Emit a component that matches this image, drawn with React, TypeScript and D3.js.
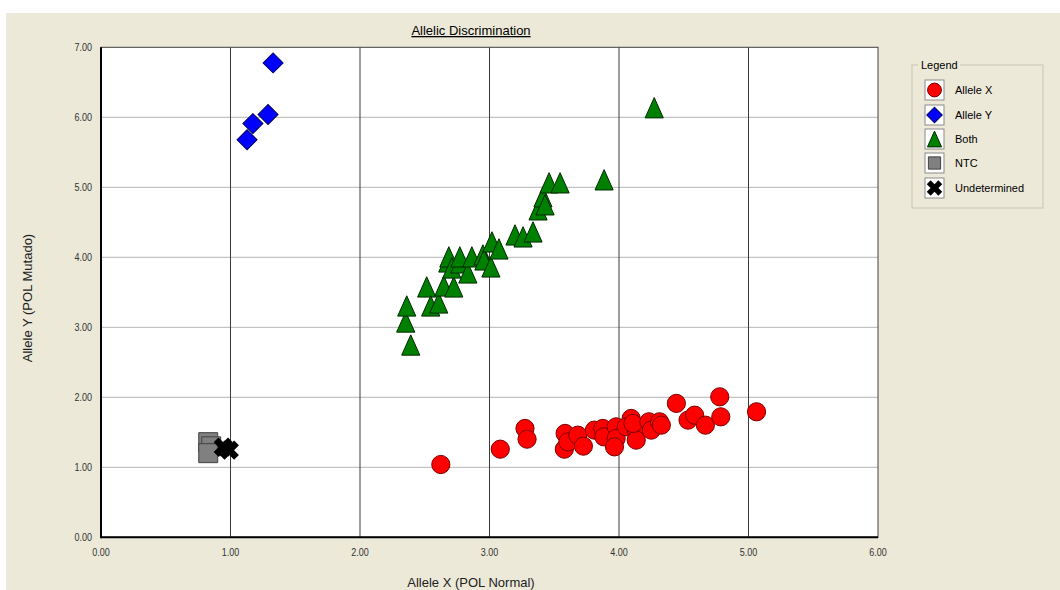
import React from "react";
import * as d3 from "d3";

const xTicks = [0, 1, 2, 3, 4, 5, 6];
const yTicks = [0, 1, 2, 3, 4, 5, 6, 7];

const alleleX: [number, number][] = [
  [2.624, 1.04], [3.083, 1.259], [3.274, 1.555], [3.29, 1.402], [3.578, 1.259],
  [3.584, 1.484], [3.605, 1.363], [3.682, 1.459], [3.725, 1.302], [3.81, 1.531],
  [3.875, 1.555], [3.883, 1.435], [3.978, 1.578], [3.978, 1.412], [3.965, 1.292],
  [4.094, 1.698], [4.056, 1.578], [4.133, 1.531], [4.133, 1.388], [4.108, 1.627],
  [4.231, 1.65], [4.249, 1.531], [4.313, 1.65], [4.327, 1.602], [4.443, 1.913],
  [4.533, 1.674], [4.584, 1.745], [4.667, 1.602], [4.778, 2.007], [4.786, 1.721],
  [5.062, 1.793],
];
const alleleY: [number, number][] = [
  [1.329, 6.777], [1.29, 6.04], [1.173, 5.91], [1.128, 5.68],
];
const both: [number, number][] = [
  [2.392, 2.747], [2.353, 3.076], [2.361, 3.305], [2.515, 3.577], [2.546, 3.305],
  [2.608, 3.348], [2.647, 3.591], [2.724, 3.577], [2.678, 3.934], [2.686, 4.006],
  [2.709, 3.848], [2.771, 3.92], [2.771, 4.006], [2.833, 3.777], [2.864, 4.006],
  [2.949, 4.034], [2.957, 3.963], [3.011, 3.863], [3.019, 4.22], [3.073, 4.12],
  [3.197, 4.32], [3.259, 4.292], [3.336, 4.363], [3.375, 4.678], [3.413, 4.864],
  [3.429, 4.75], [3.46, 5.064], [3.545, 5.064], [3.885, 5.107], [4.272, 6.137],
];
const ntc: [number, number][] = [[0.828, 1.359], [0.851, 1.3], [0.828, 1.202]];
const undetermined: [number, number][] = [[0.944, 1.288], [0.991, 1.245]];

const legendLabels = ["Allele X", "Allele Y", "Both", "NTC", "Undetermined"];

const W = 1060, H = 590;
const x = d3.scaleLinear().domain([0, 6]).range([101, 878]);
const y = d3.scaleLinear().domain([0, 7]).range([537.3, 47.3]);
const fmt = d3.format(".2f");

const triType = {
  draw(ctx: any, size: number) {
    const w = Math.sqrt(size);
    const h = w * 1.12;
    ctx.moveTo(0, -h / 2);
    ctx.lineTo(w / 2, h / 2);
    ctx.lineTo(-w / 2, h / 2);
    ctx.closePath();
  },
};
const circlePath = d3.symbol(d3.symbolCircle, 260)()!;
const diamondPath = d3.symbol(d3.symbolSquare, 200)()!;
const triPath = d3.symbol(triType as any, 330)()!;
const squarePath = d3.symbol(d3.symbolSquare, 360)()!;
const xPath = d3.symbol(d3.symbolCross, 230)()!;

const lCircle = d3.symbol(d3.symbolCircle, 150)()!;
const lDiamond = d3.symbol(d3.symbolSquare, 120)()!;
const lTri = d3.symbol(triType as any, 200)()!;
const lSquare = d3.symbol(d3.symbolSquare, 150)()!;
const lX = d3.symbol(d3.symbolCross, 150)()!;

const font = "'Liberation Sans', Arial, sans-serif";

export default function App() {
  const legendX = 912, legendY = 65;
  const rowY = [90, 115, 139, 163, 188];
  const legendIcons = [
    <path d={lCircle} fill="#ff0000" stroke="#7a0000" />,
    <path d={lDiamond} transform="rotate(45)" fill="#0000ff" stroke="#000060" />,
    <path d={lTri} fill="#008000" stroke="#002800" />,
    <path d={lSquare} fill="#808080" stroke="#404040" />,
    <path d={lX} transform="rotate(45)" fill="#000" />,
  ];
  return (
    <svg width={W} height={H} style={{ position: "absolute", left: 0, top: 0, display: "block" }}>
      <rect x={0} y={0} width={W} height={H} fill="#ffffff" />
      <rect x={6} y={13} width={W - 6} height={H - 13} fill="#ece9d8" />
      <text x={471} y={35} textAnchor="middle" fontFamily={font} fontSize={13} fill="#000"
        textDecoration="underline">Allelic Discrimination</text>
      <rect x={x(0)} y={y(7)} width={x(6) - x(0)} height={y(0) - y(7)} fill="#ffffff" />
      {yTicks.slice(1, -1).map((t) => (
        <line key={"hy" + t} x1={x(0)} x2={x(6)} y1={y(t)} y2={y(t)} stroke="#b4b4b4" strokeWidth={1} />
      ))}
      {xTicks.slice(1, -1).map((t) => (
        <line key={"vx" + t} x1={x(t)} x2={x(t)} y1={y(7)} y2={y(0)} stroke="#3c3c3c" strokeWidth={1} />
      ))}
      <rect x={x(0)} y={y(7)} width={x(6) - x(0)} height={y(0) - y(7)} fill="none" stroke="#404040" strokeWidth={1} />
      <line x1={x(0)} x2={x(0)} y1={y(7)} y2={y(0) + 1} stroke="#000" strokeWidth={2} />
      <line x1={x(0)} x2={x(6)} y1={y(0)} y2={y(0)} stroke="#000" strokeWidth={2} />
      {yTicks.map((t) => (
        <text key={"yl" + t} x={92} y={y(t) + 3.5} textAnchor="end" fontFamily={font} fontSize={10}
          fill="#333" transform={`translate(${92 * 0.1},0) scale(0.9,1)`}>{fmt(t)}</text>
      ))}
      {xTicks.map((t) => (
        <text key={"xl" + t} x={x(t) / 0.9} y={556} textAnchor="middle" fontFamily={font} fontSize={10}
          fill="#333" transform="scale(0.9,1)">{fmt(t)}</text>
      ))}
      <text transform={`translate(32,${298}) rotate(-90)`} textAnchor="middle" fontFamily={font} fontSize={13} fill="#222">Allele Y (POL Mutado)</text>
      <text x={471} y={587} textAnchor="middle" fontFamily={font} fontSize={13} fill="#222">Allele X (POL Normal)</text>
      <g>
        {alleleX.map((d, i) => (
          <path key={"ax" + i} d={circlePath} transform={`translate(${x(d[0])},${y(d[1])})`} fill="#ff0000" stroke="#7a0000" strokeWidth={1} />
        ))}
        {alleleY.map((d, i) => (
          <path key={"ay" + i} d={diamondPath} transform={`translate(${x(d[0])},${y(d[1])}) rotate(45)`} fill="#0000ff" stroke="#000060" strokeWidth={1} />
        ))}
        {both.map((d, i) => (
          <path key={"b" + i} d={triPath} transform={`translate(${x(d[0])},${y(d[1])})`} fill="#008000" stroke="#002800" strokeWidth={1} />
        ))}
        {ntc.map((d, i) => (
          <path key={"n" + i} d={squarePath} transform={`translate(${x(d[0])},${y(d[1])})`} fill="#808080" stroke="#404040" strokeWidth={1} />
        ))}
        {undetermined.map((d, i) => (
          <path key={"u" + i} d={xPath} transform={`translate(${x(d[0])},${y(d[1])}) rotate(45)`} fill="#000" />
        ))}
      </g>
      <g>
        <rect x={legendX} y={legendY} width={131} height={143} fill="none" stroke="#c8c5b4" strokeWidth={1} />
        <rect x={legendX + 6} y={legendY - 7} width={42} height={12} fill="#ece9d8" />
        <text x={legendX + 9} y={legendY + 4} fontFamily={font} fontSize={11} fill="#000">Legend</text>
        {legendLabels.map((lab, i) => (
          <g key={lab}>
            <rect x={925} y={rowY[i] - 10} width={19} height={20} fill="#ffffff" stroke="#8a8a8a" strokeWidth={1} />
            <g transform={`translate(934.5,${rowY[i]})`}>{legendIcons[i]}</g>
            <text x={955} y={rowY[i] + 4} fontFamily={font} fontSize={11} fill="#000">{lab}</text>
          </g>
        ))}
      </g>
    </svg>
  );
}
